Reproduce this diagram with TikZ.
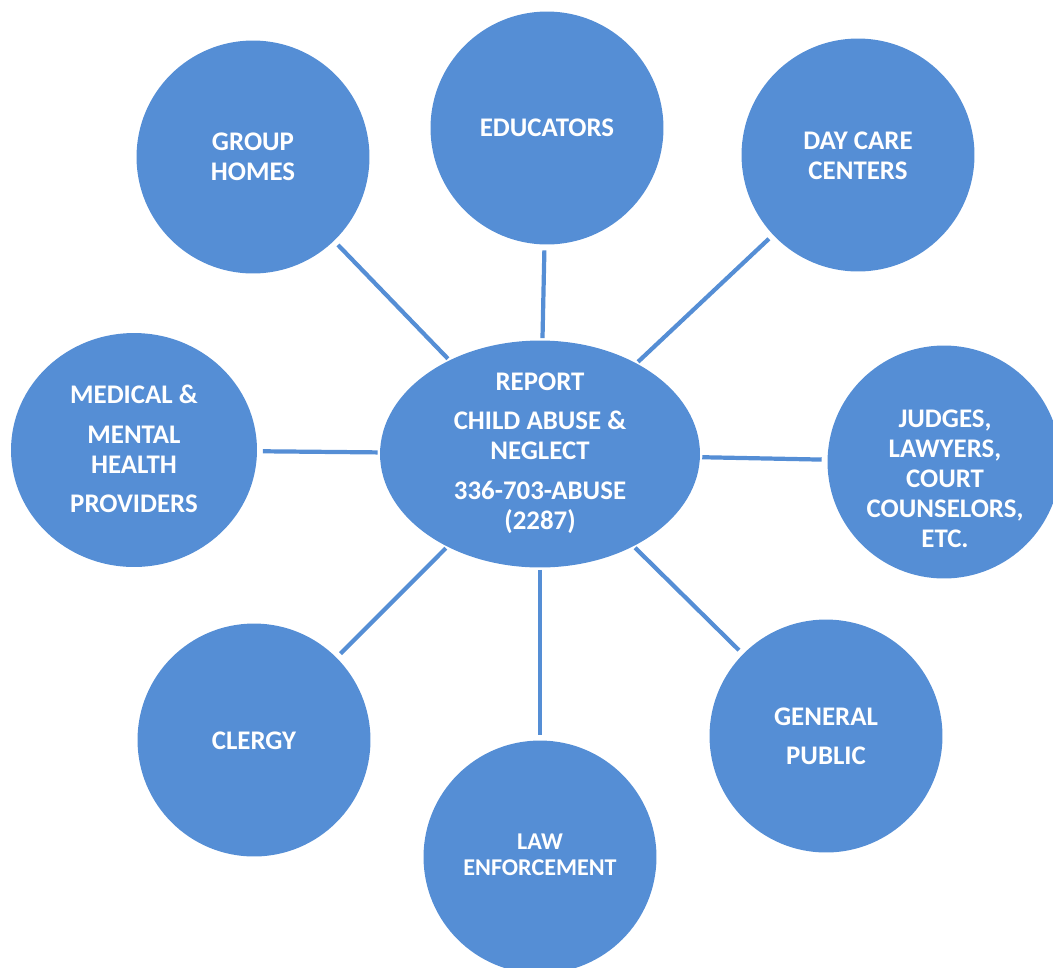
\documentclass[tikz,border=0pt]{standalone}
\usepackage{fontspec}
\setmainfont{Carlito}
\usetikzlibrary{shapes.geometric}
\definecolor{bubblue}{HTML}{558ED5}
\begin{document}
\begin{tikzpicture}[x=0.02cm,y=-0.02cm,
  bub/.style={circle,fill=bubblue,draw=none,minimum size=4.66cm,inner sep=0pt},
  lbl/.style={text=white,font=\fontsize{15.3}{17}\selectfont\bfseries,align=center,inner sep=0pt},
  lblsmall/.style={lbl,font=\fontsize{13.7}{14.8}\selectfont\bfseries},
  link/.style={draw=bubblue,line width=2.4pt,shorten >=0.11cm,shorten <=0.04cm}]
\useasboundingbox (0,0) rectangle (1053,967);
\clip (0,0) rectangle (1053,967);
% shapes
\node[ellipse,fill=bubblue,draw=none,minimum width=6.4cm,minimum height=4.54cm,inner sep=0pt] (hub) at (540,454) {};
\node[bub] (gh) at (253,157) {};
\node[bub] (edu) at (547,128) {};
\node[bub] (day) at (858,155) {};
\node[bub] (jud) at (944,462) {};
\node[bub] (gen) at (826,736) {};
\node[bub] (law) at (540,857) {};
\node[bub] (cle) at (254,740) {};
\node[ellipse,fill=bubblue,draw=none,minimum width=4.92cm,minimum height=4.68cm,inner sep=0pt] (med) at (134,450) {};
% connectors
\draw[link] (hub) -- (gh);
\draw[link] (hub) -- (edu);
\draw[link] (hub) -- (day);
\draw[link] (hub) -- (jud);
\draw[link] (hub) -- (gen);
\draw[link] (hub) -- (law);
\draw[link] (hub) -- (cle);
\draw[link] (hub) -- (med);
% labels
\node[lbl] (hub-t) at (540,453) {REPORT\\[5.4pt]CHILD ABUSE \&\\NEGLECT\\[5.4pt]336-703-ABUSE\\(2287)};
\node[lbl] (gh-t) at (253,157) {GROUP\\HOMES};
\node[lbl] (edu-t) at (547,128) {EDUCATORS};
\node[lbl] (day-t) at (858,156) {DAY CARE\\CENTERS};
\node[lbl] (jud-t) at (945,479) {JUDGES,\\LAWYERS,\\COURT\\COUNSELORS,\\ETC.};
\node[lbl] (gen-t) at (826,736) {GENERAL\\[5.4pt]PUBLIC};
\node[lblsmall] (law-t) at (540,855) {LAW\\ENFORCEMENT};
\node[lbl] (cle-t) at (254,741) {CLERGY};
\node[lbl] (med-t) at (134,449) {MEDICAL \&\\[5.4pt]MENTAL\\HEALTH\\[5.4pt]PROVIDERS};
\end{tikzpicture}
\end{document}
